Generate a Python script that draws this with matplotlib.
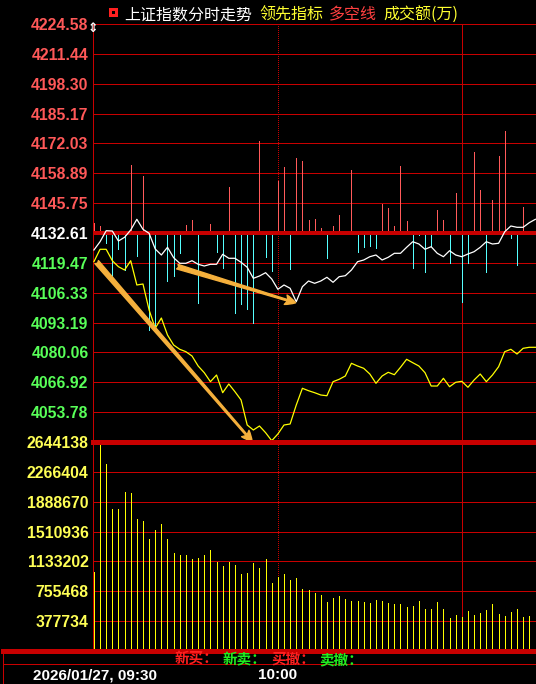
import numpy as np
import matplotlib
matplotlib.use("Agg")
import matplotlib.pyplot as plt
from matplotlib.patches import FancyArrowPatch, Rectangle
from matplotlib.lines import Line2D
import matplotlib.transforms as mtransforms

plt.rcParams['font.family'] = ['Noto Sans CJK SC', 'DejaVu Sans']

# ---- data (one point per minute from 09:30) ----
pre_close = 4132.61
price_ticks = [4224.58, 4211.44, 4198.30, 4185.17, 4172.03, 4158.89, 4145.75,
               4132.61, 4119.47, 4106.33, 4093.19, 4080.06, 4066.92, 4053.78]
price_labels = ["4224.58", "4211.44", "4198.30", "4185.17", "4172.03", "4158.89", "4145.75",
                "4132.61", "4119.47", "4106.33", "4093.19", "4080.06", "4066.92", "4053.78"]
vol_ticks = [2644138, 2266404, 1888670, 1510936, 1133202, 755468, 377734]
time_labels = ["2026/01/27, 09:30", "10:00"]
title_parts = ["上证指数分时走势", "领先指标", "多空线", "成交额(万)"]
status_parts = ["新买：", "新卖：", "买撤：", "卖撤："]

# index price (white line)
price = [4125.13, 4128.78, 4133.62, 4133.49, 4129.09, 4130.72, 4133.93, 4138.64, 4134.24, 4132.48,
         4125.57, 4122.93, 4126.32, 4121.74, 4119.28, 4119.28, 4120.42, 4118.84, 4118.09, 4118.84,
         4118.84, 4123.24, 4121.48, 4121.48, 4119.72, 4117.52, 4112.67, 4113.69, 4115.14, 4112.37,
         4107.83, 4109.73, 4108.28, 4102.38, 4108.98, 4111.49, 4110.47, 4111.49, 4113.12, 4110.91,
         4113.38, 4113.82, 4116.33, 4119.98, 4120.73, 4122.18, 4122.93, 4120.73, 4121.92, 4123.68,
         4123.68, 4126.32, 4128.78, 4127.77, 4125.44, 4126.58, 4123.68, 4122.18, 4124.82, 4122.93,
         4122.18, 4123.37, 4124.38, 4126.32, 4128.78, 4127.77, 4128.08, 4133.18, 4135.69, 4135.12,
         4135.12, 4137.14, 4138.64]

# leading indicator (yellow line)
lead = [4119.98, 4125.44, 4125.44, 4120.42, 4117.78, 4116.33, 4120.42, 4109.73, 4110.17, 4098.73,
        4090.68, 4095.20, 4087.72, 4083.32, 4081.43, 4080.38, 4078.48, 4074.08, 4071.13, 4067.18,
        4070.12, 4062.33, 4066.16, 4062.77, 4059.12, 4048.12, 4045.92, 4047.68, 4044.73, 4041.21,
        4044.16, 4048.12, 4048.56, 4056.92, 4064.27, 4063.21, 4062.33, 4061.32, 4061.00, 4067.18,
        4068.23, 4069.68, 4075.27, 4074.08, 4073.07, 4070.56, 4066.47, 4069.68, 4071.31, 4070.25,
        4073.51, 4077.03, 4075.53, 4074.08, 4071.13, 4065.28, 4065.28, 4068.67, 4064.97, 4066.91,
        4067.35, 4064.71, 4067.92, 4070.56, 4067.18, 4070.12, 4073.77, 4080.38, 4081.43, 4079.36,
        4081.87, 4082.31, 4082.31]

# long/short bars, offset from pre_close
force = [4.27, 3.08, -4.53, -22.13, -7.04, -16.28, 29.92, -9.99, 25.08, -42.68,
         -42.24, 0.0, -20.99, -18.79, -8.93, 3.52, 5.72, -30.67, 0.0, 3.96,
         -8.23, -15.53, 20.11, -35.07, -31.38, -33.58, -39.47, 40.48, -10.69, -16.59,
         23.01, 29.18, -15.97, 33.14, 31.68, 5.72, 6.16, 2.33, -10.87, 3.08,
         7.92, 0.57, 27.72, -8.23, -6.03, -5.59, -6.47, 12.76, 11.13, 3.08,
         29.48, 5.41, -15.27, -0.88, -17.03, -5.59, 10.12, 5.72, -13.07, 17.60,
         -30.23, -13.07, 35.64, 18.92, -17.03, 14.52, 33.88, 44.89, -2.33, -14.08,
         11.44, 0.0]

# turnover per minute (万)
volume = [1003000, 2640000, 2369000, 1796000, 1796000, 2011000, 2003000, 1670000, 1644000, 1417000,
          1531000, 1607000, 1417000, 1240000, 1214000, 1214000, 1164000, 1176000, 1214000, 1278000,
          1126000, 1075000, 1126000, 1088000, 974000, 987000, 1113000, 1050000, 1164000, 860000,
          936000, 974000, 898000, 923000, 784000, 772000, 734000, 708000, 620000, 670000,
          696000, 658000, 632000, 632000, 620000, 607000, 645000, 632000, 607000, 594000,
          594000, 556000, 569000, 632000, 531000, 531000, 620000, 531000, 417000, 455000,
          430000, 506000, 455000, 480000, 518000, 594000, 468000, 443000, 493000, 531000,
          430000, 443000]

minutes = np.arange(len(price))
bar_x = np.arange(len(volume))
force = np.array(force)
volume = np.array(volume)

RED_GRID = '#c80000'
PX = 0.72  # one pixel in points
W, H = 536, 684
fig = plt.figure(figsize=(W / 100, H / 100), dpi=100, facecolor='black')

ax_p = fig.add_axes([93 / W, 1 - 442 / H, (W - 93) / W, (442 - 24) / H], facecolor='black')
ax_v = fig.add_axes([93 / W, 1 - 651 / H, (W - 93) / W, (651 - 442) / H], facecolor='black', sharex=ax_p)

for ax in (ax_p, ax_v):
    for s in ['top', 'right', 'bottom']:
        ax.spines[s].set_visible(False)
    ax.spines['left'].set_color(RED_GRID)
    ax.spines['left'].set_linewidth(PX)
    ax.tick_params(axis='y', length=0, pad=3.2)
    ax.tick_params(axis='x', length=0, labelbottom=False)
    ax.axvline(30, color=RED_GRID, lw=PX, ls=(0, (1, 2)), zorder=1, antialiased=False)
    ax.axvline(60, color=RED_GRID, lw=PX, zorder=1, antialiased=False)

ax_p.set_xlim(-0.15, 72.1)

# price pane
ax_p.set_ylim(4040.64, 4224.58)
ax_p.set_yticks(price_ticks, price_labels)
for lab, v in zip(ax_p.get_yticklabels(), price_ticks):
    lab.set_fontfamily('Liberation Sans')
    lab.set_fontweight('bold')
    lab.set_fontsize(11.3)
    if v > pre_close + 0.001:
        lab.set_color('#ff5858')
    elif v < pre_close - 0.001:
        lab.set_color('#58ff58')
    else:
        lab.set_color('white')
for v in price_ticks:
    if v != pre_close:
        ax_p.axhline(v, color=RED_GRID, lw=PX, zorder=1, clip_on=False, antialiased=False)

nz = force != 0
up = nz & (force > 0)
dn = nz & (force < 0)
ax_p.vlines(bar_x[up], pre_close, pre_close + force[up], color='#ff5a5a', lw=PX, zorder=2,
            antialiased=False)
ax_p.vlines(bar_x[dn], pre_close, pre_close + force[dn], color='#55ffff', lw=PX, zorder=2,
            antialiased=False)
ax_p.axhline(pre_close, color=RED_GRID, lw=2.6, zorder=2.5, antialiased=False)

ax_p.plot(minutes, price, color='white', lw=0.9, zorder=3)
ax_p.plot(minutes, lead, color='#ffff00', lw=0.9, zorder=3)

# hand-drawn arrows
arrows = [((0.45, 4119.8), (25.8, 4040.9)), ((13.6, 4117.8), (32.9, 4101.9))]
for a, b in arrows:
    ax_p.add_patch(FancyArrowPatch(a, b, arrowstyle='fancy,head_length=0.75,head_width=0.7,tail_width=0.34',
                                   mutation_scale=10, color='#f5b03c', shrinkA=0, shrinkB=0,
                                   zorder=6, clip_on=False))

# volume pane
ax_v.set_ylim(0, vol_ticks[0])
ax_v.set_yticks(vol_ticks, [str(v) for v in vol_ticks])
for lab in ax_v.get_yticklabels():
    lab.set_fontfamily('Liberation Sans')
    lab.set_fontweight('bold')
    lab.set_fontsize(11.3)
    lab.set_color('#ffff55')
for v in vol_ticks[1:]:
    ax_v.axhline(v, color=RED_GRID, lw=PX, zorder=1, antialiased=False)
ax_v.axhline(vol_ticks[0], color=RED_GRID, lw=2.2, zorder=4, clip_on=False, antialiased=False)
ax_v.vlines(bar_x, 0, volume, color='#ffff00', lw=PX, zorder=3, antialiased=False)

# status bar lines
fig.add_artist(Line2D([3 / W, 1], [1 - 651 / H] * 2, color=RED_GRID, lw=2.2, antialiased=False))
fig.add_artist(Line2D([3 / W, 1], [1 - 664 / H] * 2, color=RED_GRID, lw=PX, antialiased=False))
fig.add_artist(Line2D([3 / W] * 2, [1 - 651 / H, 0], color=RED_GRID, lw=PX, antialiased=False))

# title row
fig.add_artist(Rectangle((109 / W, 1 - 17 / H), 9 / W, 9 / H, facecolor='#ff2020', edgecolor='none'))
fig.add_artist(Rectangle((112 / W, 1 - 14 / H), 3 / W, 3 / H, facecolor='black', edgecolor='none'))
title_x = [124, 259, 329, 383]
title_c = ['white', '#ffff30', '#ff4040', '#ffff30']
for t, x, c in zip(title_parts, title_x, title_c):
    fig.text(x / W, 1 - 15 / H, t, color=c, fontsize=11.5, va='center', ha='left')
fig.text(93 / W, 1 - 28 / H, '⇕', color='white', fontsize=9, fontweight='bold',
         family='DejaVu Sans', va='center', ha='center')

# status text
status_x = [175, 223, 271, 319]
status_c = ['#ff2020', '#20ee20', '#ff2020', '#20ee20']
for t, x, c in zip(status_parts, status_x, status_c):
    fig.text(x / W, 1 - 659 / H, t, color=c, fontsize=10.5, fontweight='bold', va='center', ha='left')

# time labels
tr = mtransforms.blended_transform_factory(ax_v.transData, fig.transFigure)
fig.text(157 / W, 1 - 675 / H, time_labels[0], color='white', fontsize=11, fontweight='bold',
         family='Liberation Sans', va='center', ha='right')
ax_v.text(30, 1 - 675 / H, time_labels[1], transform=tr, color='white', fontsize=11,
          fontweight='bold', family='Liberation Sans', va='center', ha='center', clip_on=False)

fig.savefig('out.png', dpi=100, facecolor='black')
